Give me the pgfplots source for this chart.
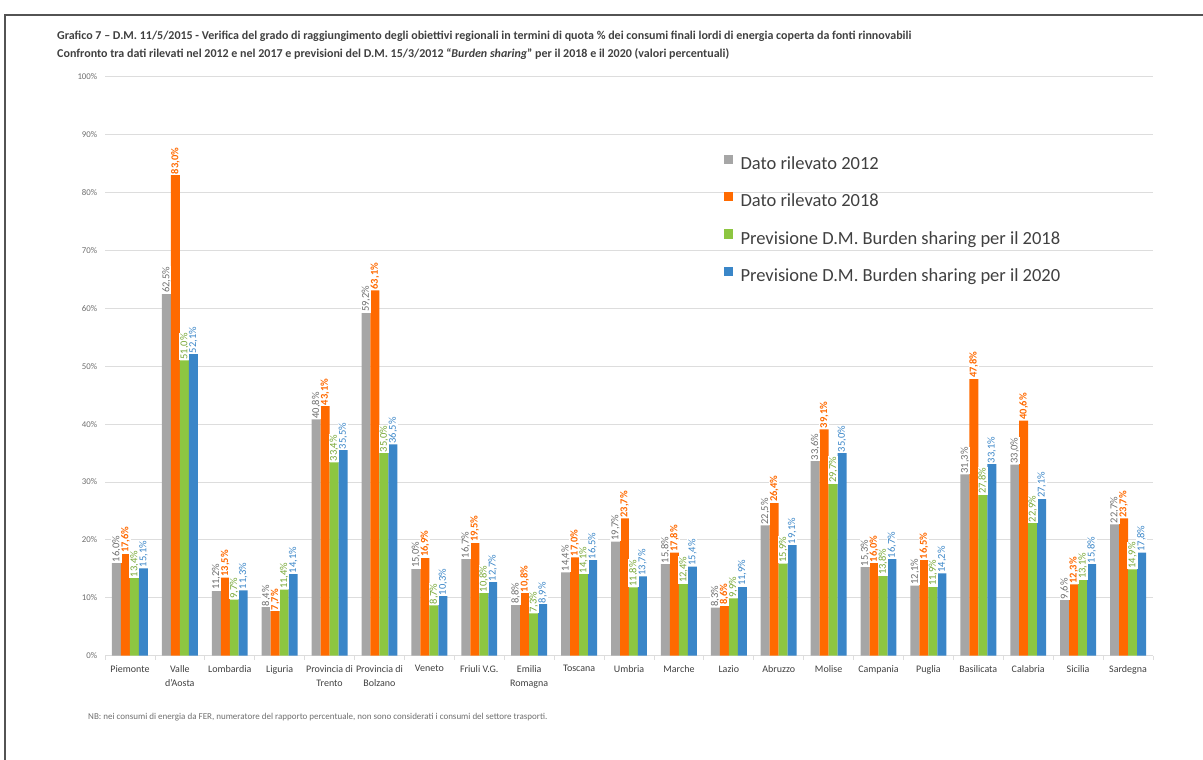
\documentclass[border=0pt]{standalone}
\usepackage{pgfplots}
\pgfplotsset{compat=1.18}
\usepackage{fontspec}
\setmainfont{Carlito}
\definecolor{cgray}{HTML}{A6A6A6}
\definecolor{corange}{HTML}{FF6A00}
\definecolor{cgreen}{HTML}{8DC641}
\definecolor{cblue}{HTML}{3A86C8}
\definecolor{lgray}{HTML}{6E6E6E}
\definecolor{txt}{HTML}{404040}
\definecolor{gridc}{HTML}{DDDDDD}
\pgfplotstableread{
x a b c d
0 16.0 17.6 13.4 15.1
1 62.5 83.0 51.0 52.1
2 11.2 13.5 9.7 11.3
3 8.4 7.7 11.4 14.1
4 40.8 43.1 33.4 35.5
5 59.2 63.1 35.0 36.5
6 15.0 16.9 8.7 10.3
7 16.7 19.5 10.8 12.7
8 8.8 10.8 7.3 8.9
9 14.4 17.0 14.1 16.5
10 19.7 23.7 11.8 13.7
11 15.8 17.8 12.4 15.4
12 8.3 8.6 9.9 11.9
13 22.5 26.4 15.9 19.1
14 33.6 39.1 29.7 35.0
15 15.3 16.0 13.8 16.7
16 12.1 16.5 11.9 14.2
17 31.3 47.8 27.8 33.1
18 33.0 40.6 22.9 27.1
19 9.6 12.3 13.1 15.8
20 22.7 23.7 14.9 17.8
}\datatable
\begin{document}
\begin{tikzpicture}[x=1pt,y=1pt]
\useasboundingbox (0,0) rectangle (1203,760);
\draw[line width=1.5pt, color=txt!90] (5,0) -- (5,745) -- (1203,745);
\node[anchor=base west, inner sep=0, text=txt, font=\bfseries\fontsize{12}{14}\selectfont] at (57,720)
 {Grafico 7 -- D.M. 11/5/2015 - Verifica del grado di raggiungimento degli obiettivi regionali in termini di quota \% dei consumi finali lordi di energia coperta da fonti rinnovabili};
\node[anchor=base west, inner sep=0, text=txt, font=\bfseries\fontsize{12}{14}\selectfont] at (57,702)
 {Confronto tra dati rilevati nel 2012 e nel 2017 e previsioni del D.M. 15/3/2012 ``\textit{Burden sharing}'' per il 2018 e il 2020 (valori percentuali)};
\node[anchor=base west, inner sep=0, text=lgray, font=\fontsize{9}{10}\selectfont] at (88,40)
 {NB: nei consumi di energia da FER, numeratore del rapporto percentuale, non sono considerati i consumi del settore trasporti.};
\begin{axis}[
  at={(105pt,104.3pt)}, anchor=south west,
  scale only axis, width=1048pt, height=579pt,
  xmin=-0.5, xmax=20.5, ymin=0, ymax=100,
  /pgf/number format/assume math mode=true,
  axis x line*=bottom, axis y line*=left,
  y axis line style={draw=none},
  x axis line style={color=gridc, line width=0.8pt},
  ytick={0,10,...,100},
  yticklabel={\pgfmathprintnumber{\tick}\%},
  yticklabel style={font=\fontsize{8.8}{10}\selectfont, text=lgray},
  ytick style={draw=none},
  ymajorgrids, grid style={color=gridc, line width=0.8pt},
  xtick={0,...,20},
  xticklabels={Piemonte,Valle\\d'Aosta,Lombardia,Liguria,Provincia di\\Trento,Provincia di\\Bolzano,Veneto,Friuli V.G.,Emilia\\Romagna,Toscana,Umbria,Marche,Lazio,Abruzzo,Molise,Campania,Puglia,Basilicata,Calabria,Sicilia,Sardegna},
  xticklabel style={font=\fontsize{10}{14}\selectfont, text=txt, align=center, yshift=-2pt},
  major x tick style={draw=none},
  minor xtick={-0.5,0.5,...,20.5},
  minor x tick style={color=gridc, line width=0.8pt},
  minor tick length=4pt, tick align=outside,
  ybar, bar width=0.18,
  nodes near coords={\pgfmathprintnumber[fixed,fixed zerofill,precision=1,use comma]{\pgfplotspointmeta}\%},
  every node near coord/.append style={rotate=90, anchor=west, fill=white, inner sep=0.8pt, font=\fontsize{10.5}{11}\selectfont},
  legend style={at={(0.590,0.866)}, anchor=north west, draw=none, fill=none,
    font=\fontsize{18.5}{22}\selectfont, text=txt, row sep=19pt, inner sep=0pt},
  legend cell align=left,
  legend image code/.code={\fill[#1] (0pt,-0.5pt) rectangle (9.5pt,9pt); \path (15pt,0pt);},
]
\addplot[fill=cgray, draw=none, bar shift=-0.27, every node near coord/.append style={text=lgray}] table[x=x,y=a] {\datatable};
\addlegendentry{Dato rilevato 2012}
\addplot[fill=corange, draw=none, bar shift=-0.09, every node near coord/.append style={text=corange, font=\bfseries\fontsize{10.5}{11}\selectfont}] table[x=x,y=b] {\datatable};
\addlegendentry{Dato rilevato 2018}
\addplot[fill=cgreen, draw=none, bar shift=0.09, every node near coord/.append style={text=cgreen!85!black}] table[x=x,y=c] {\datatable};
\addlegendentry{Previsione D.M. Burden sharing per il 2018}
\addplot[fill=cblue, draw=none, bar shift=0.27, every node near coord/.append style={text=cblue}] table[x=x,y=d] {\datatable};
\addlegendentry{Previsione D.M. Burden sharing per il 2020}
\end{axis}
\end{tikzpicture}
\end{document}
